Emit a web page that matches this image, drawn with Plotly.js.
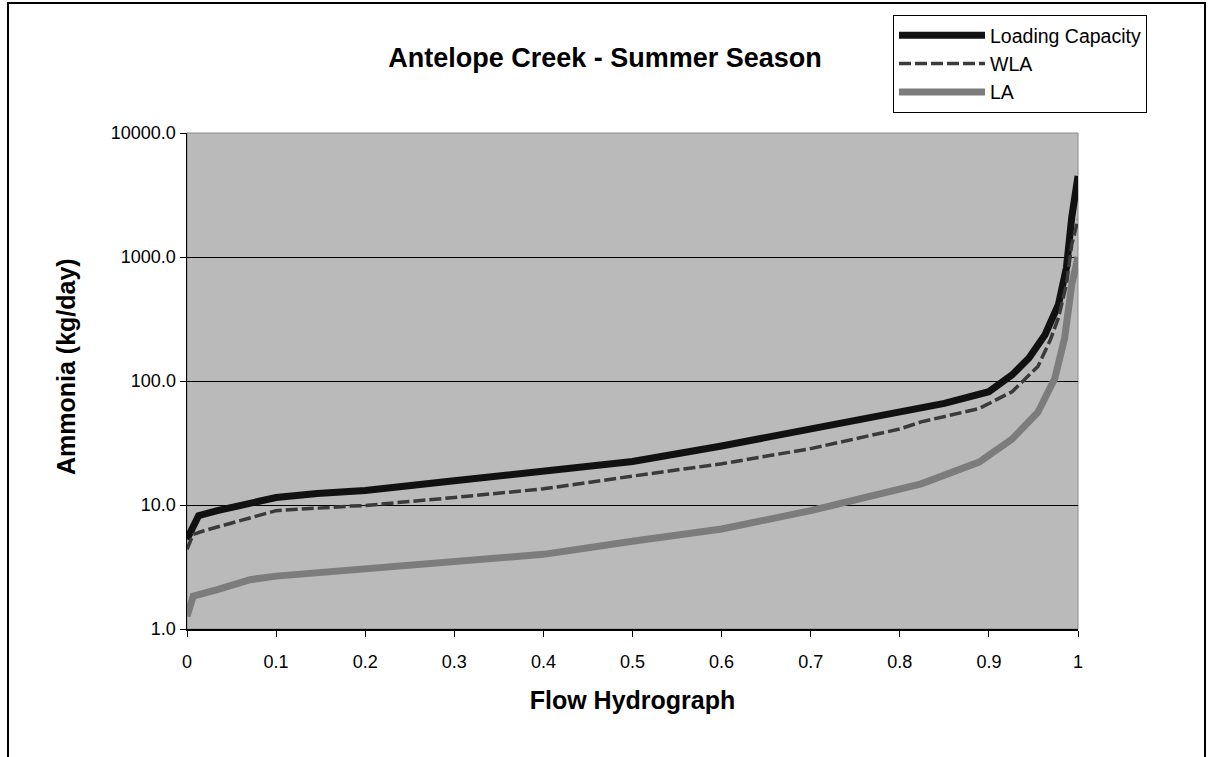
<!DOCTYPE html>
<html>
<head>
<meta charset="utf-8">
<script src="https://cdn.plot.ly/plotly-3.0.1.min.js"></script>
<style>
  html, body { margin: 0; padding: 0; background: #ffffff; }
  #chart { width: 1210px; height: 757px; }
</style>
</head>
<body>
<div id="chart"></div>
<script>
// ---- Data (flow percentile vs. load, kg/day) ----
const xLC  = [0, 0.007, 0.013, 0.034, 0.071, 0.1, 0.146, 0.2, 0.3, 0.4, 0.5, 0.6, 0.7, 0.8, 0.85, 0.9, 0.926, 0.945, 0.963, 0.978, 0.987, 0.993, 0.997, 1.0];
const yLC  = [5.3, 7.0, 8.2, 9.0, 10.5, 11.5, 12.4, 13.1, 15.7, 19.0, 22.4, 29.9, 41.3, 56.5, 66, 82, 112, 153, 236, 413, 820, 2090, 3300, 4500];

const xWLA = [0, 0.007, 0.019, 0.071, 0.1, 0.184, 0.2, 0.3, 0.4, 0.5, 0.6, 0.7, 0.8, 0.824, 0.889, 0.926, 0.955, 0.969, 0.978, 0.987, 0.993, 1.0];
const yWLA = [4.4, 5.8, 6.2, 7.9, 9.0, 9.8, 9.9, 11.5, 13.5, 17.1, 21.5, 28.5, 41, 46.8, 60, 82, 131, 215, 323, 600, 1260, 2000];

const xLA  = [0, 0.007, 0.034, 0.071, 0.1, 0.184, 0.2, 0.3, 0.4, 0.5, 0.6, 0.7, 0.8, 0.824, 0.889, 0.926, 0.955, 0.974, 0.985, 0.993, 1.0];
const yLA  = [1.27, 1.84, 2.08, 2.5, 2.67, 2.99, 3.03, 3.47, 4.0, 5.1, 6.4, 9.0, 13.1, 14.8, 22.2, 34, 56, 105, 222, 600, 1000];

const seriesNames = ["Loading Capacity", "WLA", "LA"];

const xTickVals = [0, 0.1, 0.2, 0.3, 0.4, 0.5, 0.6, 0.7, 0.8, 0.9, 1];
const xTickText = ["0", "0.1", "0.2", "0.3", "0.4", "0.5", "0.6", "0.7", "0.8", "0.9", "1"];
const yTickVals = [1, 10, 100, 1000, 10000];
const yTickText = ["1.0", "10.0", "100.0", "1000.0", "10000.0"];

const FONT = "Liberation Sans, Arial, sans-serif";

const traces = [
  { x: xLC, y: yLC, name: seriesNames[0], type: "scatter", mode: "lines",
    line: { color: "#111111", width: 7 } },
  { x: xWLA, y: yWLA, name: seriesNames[1], type: "scatter", mode: "lines",
    line: { color: "#3a3a3a", width: 3.5, dash: "12px,4px" } },
  { x: xLA, y: yLA, name: seriesNames[2], type: "scatter", mode: "lines",
    line: { color: "#7c7c7c", width: 7 } }
];

const layout = {
  width: 1210, height: 757,
  margin: { l: 187, r: 132, t: 133, b: 128 },
  paper_bgcolor: "#ffffff",
  plot_bgcolor: "#bababa",
  font: { family: FONT, color: "#000000", size: 18 },
  title: {
    text: "<b>Antelope Creek - Summer Season</b>",
    font: { family: FONT, size: 27, color: "#000000" },
    xref: "container", x: 0.5, xanchor: "center",
    yref: "container", y: 1 - 58 / 757, yanchor: "middle"
  },
  xaxis: {
    range: [0, 1],
    tickvals: xTickVals, ticktext: xTickText,
    ticks: "outside", ticklen: 6, tickcolor: "#000", tickwidth: 1,
    ticklabelstandoff: 10,
    showline: true, linecolor: "#000", linewidth: 1.5,
    showgrid: false, zeroline: false,
    tickfont: { family: FONT, size: 18 },
    title: { text: "<b>Flow Hydrograph</b>", font: { family: FONT, size: 25 }, standoff: 20 }
  },
  yaxis: {
    type: "log", range: [0, 4],
    tickvals: yTickVals, ticktext: yTickText,
    ticks: "outside", ticklen: 6, tickcolor: "#000", tickwidth: 1,
    showline: true, linecolor: "#000", linewidth: 1.5,
    showgrid: true, gridcolor: "#000000", gridwidth: 1,
    zeroline: false,
    tickfont: { family: FONT, size: 18 },
    title: { text: "" }
  },
  annotations: [
    { text: "<b>Ammonia (kg/day)</b>", xref: "paper", yref: "paper",
      x: (66 - 187) / 891, y: (629 - 367) / 496, xanchor: "center", yanchor: "middle",
      textangle: -90, showarrow: false, font: { family: FONT, size: 25, color: "#000" } }
  ],
  legend: {
    x: (893 - 187) / 891, y: (629 - 15) / 496,
    xanchor: "left", yanchor: "top",
    bgcolor: "#ffffff", bordercolor: "#000000", borderwidth: 1,
    font: { family: FONT, size: 19.5, color: "#000" },
    itemwidth: 86, tracegroupgap: 0
  },
  showlegend: true,
  shapes: [
    { type: "rect", xref: "paper", yref: "paper", x0: 0, x1: 1, y0: 0, y1: 1,
      line: { color: "#8a8a8a", width: 1 }, fillcolor: "rgba(0,0,0,0)", layer: "below" },
    { type: "rect", xref: "paper", yref: "paper",
      x0: (8 - 187) / 891, x1: (1205 - 187) / 891,
      y0: (629 - 770) / 496, y1: (629 - 3) / 496,
      line: { color: "#000000", width: 2 }, fillcolor: "rgba(0,0,0,0)" }
  ]
};

Plotly.newPlot("chart", traces, layout, { displayModeBar: false, staticPlot: true });
</script>
</body>
</html>
